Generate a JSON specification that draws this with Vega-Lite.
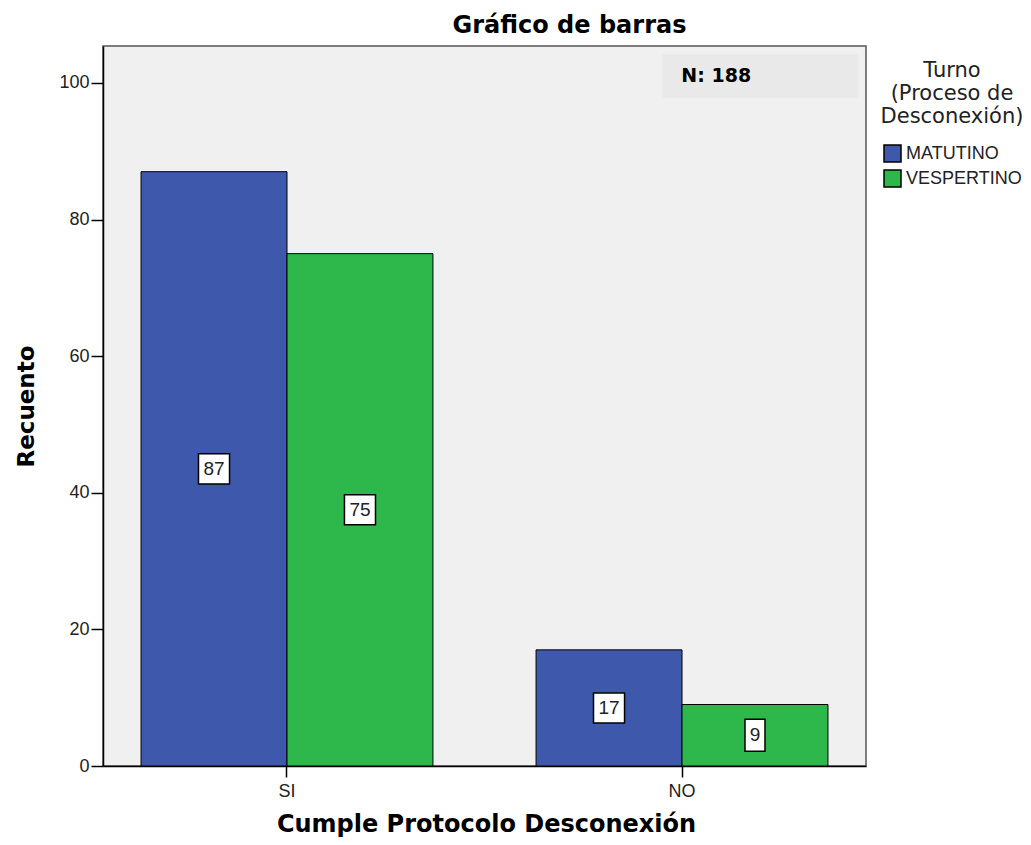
{
  "$schema": "https://vega.github.io/schema/vega-lite/v6.json",
  "width": 763,
  "height": 720,
  "autosize": {"type": "none"},
  "padding": {"left": 103, "top": 46, "right": 165, "bottom": 79},
  "background": "white",
  "title": {"text": "Gráfico de barras", "font": "DejaVu Sans", "fontSize": 24, "fontWeight": "bold", "color": "black", "anchor": "middle", "frame": "group", "dx": 85, "offset": 8},
  "data": {"values": [
    {"Cumple": "SI", "Turno": "MATUTINO", "Recuento": 87},
    {"Cumple": "SI", "Turno": "VESPERTINO", "Recuento": 75},
    {"Cumple": "NO", "Turno": "MATUTINO", "Recuento": 17},
    {"Cumple": "NO", "Turno": "VESPERTINO", "Recuento": 9}
  ]},
  "layer": [
    {
      "layer": [
        {
          "mark": {"type": "bar", "stroke": "black", "strokeWidth": 1},
          "encoding": {
            "x": {"field": "Cumple", "type": "nominal", "sort": ["SI", "NO"], "title": "Cumple Protocolo Desconexión", "scale": {"paddingInner": 0.261, "paddingOuter": 0.0963}},
            "xOffset": {"field": "Turno", "type": "nominal", "scale": {"paddingInner": 0, "paddingOuter": 0}},
            "y": {"field": "Recuento", "type": "quantitative", "title": "Recuento", "scale": {"domain": [0, 105.4], "nice": false, "zero": true}, "axis": {"values": [0, 20, 40, 60, 80, 100]}},
            "color": {"field": "Turno", "type": "nominal",
              "scale": {"domain": ["MATUTINO", "VESPERTINO"], "range": ["#3e58ac", "#2eb84b"]},
              "legend": {"orient": "none", "legendX": 778, "legendY": 14, "title": ["Turno", "(Proceso de", "Desconexión)"], "titleFont": "DejaVu Sans", "titleFontSize": 21, "titleFontWeight": "normal", "titleColor": "#222", "titleAlign": "center", "titleAnchor": "middle", "titleLineHeight": 23, "titlePadding": 17, "symbolType": "square", "symbolSize": 289, "symbolStrokeColor": "black", "symbolStrokeWidth": 1.5, "symbolOpacity": 1, "labelFont": "Liberation Sans", "labelFontSize": 18, "labelColor": "#222", "labelOffset": 4, "rowPadding": 2, "padding": 0}}
          }
        },
        {
          "transform": [{"calculate": "datum.Recuento / 2", "as": "mid"}],
          "mark": {"type": "point", "filled": true, "fill": "white", "stroke": "black", "strokeWidth": 1.5, "opacity": 1, "size": 1024},
          "encoding": {
            "x": {"field": "Cumple", "type": "nominal", "sort": ["SI", "NO"], "title": "Cumple Protocolo Desconexión"},
            "xOffset": {"field": "Turno", "type": "nominal"},
            "y": {"field": "mid", "type": "quantitative", "title": "Recuento"},
            "shape": {"condition": {"test": "datum.Recuento < 10", "value": "M-0.625,-1L0.625,-1L0.625,1L-0.625,1Z"}, "value": "M-0.97,-0.94L0.97,-0.94L0.97,0.94L-0.97,0.94Z"}
          }
        },
        {
          "transform": [{"calculate": "datum.Recuento / 2", "as": "mid"}],
          "mark": {"type": "text", "font": "Liberation Sans", "fontSize": 19, "color": "#222", "baseline": "middle", "align": "center"},
          "encoding": {
            "x": {"field": "Cumple", "type": "nominal", "sort": ["SI", "NO"], "title": "Cumple Protocolo Desconexión"},
            "xOffset": {"field": "Turno", "type": "nominal"},
            "y": {"field": "mid", "type": "quantitative", "title": "Recuento"},
            "text": {"field": "Recuento", "type": "quantitative"}
          }
        }
      ]
    },
    {
      "transform": [
        {"aggregate": [{"op": "sum", "field": "Recuento", "as": "N"}]},
        {"calculate": "'N: ' + datum.N", "as": "label"}
      ],
      "layer": [
        {
          "mark": {"type": "rect", "fill": "#e9e9e9"},
          "encoding": {
            "x": {"datum": 0.733, "type": "quantitative", "scale": {"domain": [0, 1]}, "axis": null},
            "x2": {"datum": 0.99},
            "y": {"datum": 104.2, "type": "quantitative", "title": "Recuento"},
            "y2": {"datum": 97.8}
          }
        },
        {
          "mark": {"type": "text", "align": "left", "baseline": "middle", "font": "DejaVu Sans", "fontSize": 19, "fontWeight": "bold", "color": "black"},
          "encoding": {
            "x": {"datum": 0.758, "type": "quantitative", "scale": {"domain": [0, 1]}, "axis": null},
            "y": {"datum": 101, "type": "quantitative", "title": "Recuento"},
            "text": {"field": "label"}
          }
        }
      ]
    }
  ],
  "resolve": {"scale": {"x": "independent"}},
  "config": {
    "view": {"fill": "#f0f0f0", "stroke": "#555", "strokeWidth": 1.5},
    "axisX": {"labelAngle": 0, "labelFont": "Liberation Sans", "labelFontSize": 18, "labelColor": "#222", "labelPadding": 5, "tickSize": 11, "tickColor": "black", "tickWidth": 1.5, "domainColor": "black", "domainWidth": 1.5, "grid": false, "titleFont": "DejaVu Sans", "titleFontSize": 24, "titleFontWeight": "bold", "titleColor": "black", "titleX": 383, "titleY": 65, "titleAlign": "center", "titleBaseline": "alphabetic"},
    "axisY": {"labelFont": "Liberation Sans", "labelFontSize": 18, "labelColor": "#222", "labelPadding": 2, "tickSize": 12, "tickColor": "black", "tickWidth": 1.5, "domainColor": "black", "domainWidth": 1.5, "grid": false, "titleFont": "DejaVu Sans", "titleFontSize": 23, "titleFontWeight": "bold", "titleColor": "black", "titleX": -70, "titleY": 360, "titleAlign": "center", "titleBaseline": "alphabetic", "titleAngle": -90}
  }
}
